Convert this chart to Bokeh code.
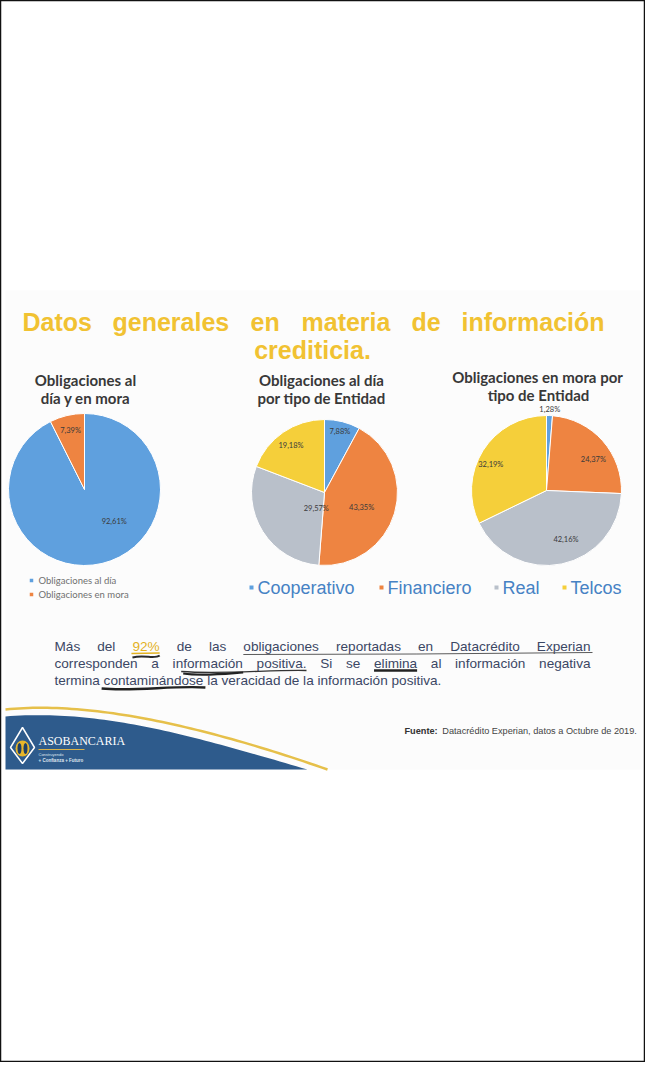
import numpy as np
from bokeh.plotting import figure
from bokeh.models import Range1d, ColumnDataSource
from bokeh.core.properties import value
from bokeh.embed import file_html
from bokeh.resources import INLINE

# ---------------- data ----------------
main_title_words = ["Datos", "generales", "en", "materia", "de", "información"]
main_title_line2 = "crediticia."

pie1_title = ["Obligaciones al", "día y en mora"]
pie1_categories = ["Obligaciones al día", "Obligaciones en mora"]
pie1_values = [92.61, 7.39]

pie2_title = ["Obligaciones al día", "por tipo de Entidad"]
pie3_title = ["Obligaciones en mora por", "tipo de Entidad"]
entity_categories = ["Cooperativo", "Financiero", "Real", "Telcos"]
pie2_values = [7.88, 43.35, 29.57, 19.18]
pie3_values = [1.28, 24.37, 42.16, 32.19]

para_line1 = ["Más", "del", "92%", "de", "las", "obligaciones", "reportadas", "en", "Datacrédito", "Experian"]
para_line2 = ["corresponden", "a", "información", "positiva.", "Si", "se", "elimina", "al", "información", "negativa"]
para_line3 = "termina contaminándose la veracidad de la información positiva."
source_bold = "Fuente:"
source_text = "Datacrédito Experian, datos a Octubre de 2019."
brand = "ASOBANCARIA"

# ---------------- styles / layout ----------------
BLUE, ORANGE, GRAY, YELLOW = "#5fa0de", "#ee8441", "#b9c0ca", "#f5cf3a"
pie1_colors = [BLUE, ORANGE]
entity_colors = [BLUE, ORANGE, GRAY, YELLOW]

# Arial / Liberation Sans advance widths (1/1000 em)
CW = dict(a=556, b=556, c=500, d=556, e=556, f=278, g=556, h=556, i=222, j=222, k=500,
          l=222, m=833, n=556, o=556, p=556, q=556, r=333, s=500, t=278, u=556, v=500,
          w=722, x=500, y=500, z=500, M=833, D=722, E=667, S=667)
CW.update({"á": 556, "é": 556, "í": 278, "ó": 556, "%": 889, ".": 278, " ": 278, ",": 278})


def tw(s, size):
    return sum(CW.get(ch, 556) for ch in s) / 1000.0 * size


p = figure(width=645, height=1062, x_range=Range1d(8, 653), y_range=Range1d(8, 1070),
           output_backend="svg", toolbar_location=None, min_border=0,
           x_axis_location=None, y_axis_location=None)
p.grid.visible = False
p.outline_line_color = "#111111"
p.outline_line_width = 1.5
p.background_fill_color = "white"
p.border_fill_color = "white"


def Y(py):
    return 1078 - py


def T(x, y, text, size, color, font="Liberation Sans", style="normal", align="left", base="middle"):
    xs = x if isinstance(x, list) else [x]
    ys = y if isinstance(y, list) else [y] * len(xs)
    ts = text if isinstance(text, list) else [text]
    p.text(x=xs, y=[Y(v) for v in ys], text=ts, text_font=value(font),
           text_font_size=value(size), text_color=color, text_font_style=style,
           text_align=align, text_baseline=base)


# slide background
p.quad(left=13, right=650, bottom=Y(777), top=Y(298), fill_color="#fcfcfc", line_color=None)

# main title (justified words)
T([30, 120, 258, 309, 419, 469], 329, main_title_words, "25px", "#f1c232", style="bold")
T(320, 357, main_title_line2, "25px", "#f1c232", style="bold", align="center")

# chart titles
TF = "Lato"
TS = "15px"
TC = "#383838"
T(93, 387, pie1_title[0], TS, TC, font=TF, style="bold", align="center")
T(93, 405, pie1_title[1], TS, TC, font=TF, style="bold", align="center")
T(329, 387, pie2_title[0], TS, TC, font=TF, style="bold", align="center")
T(329, 405, pie2_title[1], TS, TC, font=TF, style="bold", align="center")
T(545, 384, pie3_title[0], TS, TC, font=TF, style="bold", align="center")
T(546, 402, pie3_title[1], TS, TC, font=TF, style="bold", align="center")


def draw_pie(cx, cy, r, values, colors, label_layout):
    v = np.array(values, dtype=float)
    frac = v / v.sum()
    c1 = np.cumsum(frac)
    c0 = c1 - frac
    src = ColumnDataSource(dict(start=np.pi / 2 - 2 * np.pi * c0,
                                end=np.pi / 2 - 2 * np.pi * c1,
                                color=colors))
    p.wedge(x=cx, y=Y(cy), radius=r, start_angle="start", end_angle="end",
            direction="clock", fill_color="color", line_color="white",
            line_width=1, source=src)
    mid = (c0 + c1) / 2
    lx, ly, lt = [], [], []
    for m, val, (rf, dd) in zip(mid, values, label_layout):
        a = 2 * np.pi * m + np.radians(dd)
        lx.append(cx + rf * r * np.sin(a))
        ly.append(Y(cy) + rf * r * np.cos(a))
        lt.append(("%.2f%%" % val).replace(".", ","))
    p.text(x=lx, y=ly, text=lt, text_font=value("Lato"), text_font_size=value("7.5px"),
           text_color="#3a3a3a", text_align="center", text_baseline="middle")


draw_pie(92, 497, 76, pie1_values, pie1_colors, [(0.57, -30), (0.8, 0)])
draw_pie(332, 500, 73, pie2_values, entity_colors, [(0.86, 0), (0.55, 6), (0.25, -31), (0.79, -1)])
draw_pie(554, 498, 75, pie3_values, entity_colors, [(1.08, 0), (0.75, 8), (0.7, -10), (0.82, -7)])

# legend 1
leg1_y = [588, 602]
p.rect(x=[39, 39], y=[Y(v) for v in leg1_y], width=3.5, height=3.5, fill_color=pie1_colors, line_color=None)
T([46, 46], leg1_y, pie1_categories, "9.5px", "#707070", font="Lato")

# legend 2
leg2_x = [265, 395, 510, 578]
p.rect(x=[v - 6 for v in leg2_x], y=Y(595), width=4, height=4, fill_color=entity_colors, line_color=None)
T(leg2_x, 595, entity_categories, "18px", "#4682c4")

# paragraph (justified between PX0 and PX1)
PC = "#3b4764"
PS = 13.6
PX0, PX1 = 62, 598
L1, L2, L3 = 654, 671, 688


def justify(words):
    widths = [tw(w, PS) for w in words]
    gap = (PX1 - PX0 - sum(widths)) / (len(words) - 1)
    xs, x = [], PX0
    for w in widths:
        xs.append(x)
        x += w + gap
    return xs, widths


l1x, l1w = justify(para_line1)
l2x, l2w = justify(para_line2)
l1_colors = [PC, PC, "#e3b21f"] + [PC] * 7
p.text(x=l1x, y=Y(L1), text=para_line1, text_font=value("Liberation Sans"),
       text_font_size=value("%.1fpx" % PS), text_color=l1_colors, text_align="left", text_baseline="middle")
T(l2x, L2, para_line2, "%.1fpx" % PS, PC)
T(PX0, L3, para_line3, "%.1fpx" % PS, PC)

# hand-drawn underlines
i92 = 2
a, b = l1x[i92], l1x[i92] + l1w[i92]
p.line([a - 1, b], [Y(L1 + 7), Y(L1 + 6.5)], line_color="#e3b21f", line_width=1.5)
p.bezier(x0=a, y0=Y(L1 + 11), x1=b, y1=Y(L1 + 9), cx0=a + 12, cy0=Y(L1 + 8), cx1=a + 22, cy1=Y(L1 + 13),
         line_color="#2a2a2a", line_width=2)
a, b = l1x[5], l1x[9] + l1w[9]
p.line([a, (a + b) / 2, b + 2], [Y(L1 + 8), Y(L1 + 7.5), Y(L1 + 6)], line_color="#5a5a5a", line_width=1)
a = l2x[2] + tw("in", PS)
b = l2x[3] + l2w[3]
p.bezier(x0=a - 2, y0=Y(L2 + 8), x1=b, y1=Y(L2 + 7), cx0=a + 40, cy0=Y(L2 + 11), cx1=a + 90, cy1=Y(L2 + 6),
         line_color="#333333", line_width=1.3)
p.bezier(x0=a, y0=Y(L2 + 10), x1=a + 60, y1=Y(L2 + 9), cx0=a + 20, cy0=Y(L2 + 13), cx1=a + 45, cy1=Y(L2 + 10),
         line_color="#222222", line_width=2.2)
a, b = l2x[6], l2x[6] + l2w[6]
p.line([a, b], [Y(L2 + 7), Y(L2 + 7)], line_color="#222222", line_width=2.6)
a = PX0 + tw("termina ", PS)
b = a + tw("contaminándose", PS)
p.bezier(x0=a - 2, y0=Y(L3 + 8), x1=b + 2, y1=Y(L3 + 7), cx0=a + 30, cy0=Y(L3 + 11), cx1=a + 70, cy1=Y(L3 + 5),
         line_color="#222222", line_width=2.4)


# footer wave
def bez(P0, P1, P2, P3, n=60):
    t = np.linspace(0, 1, n)
    pts = [np.array(P) for P in (P0, P1, P2, P3)]
    return ((1 - t) ** 3)[:, None] * pts[0] + (3 * (1 - t) ** 2 * t)[:, None] * pts[1] + \
           (3 * (1 - t) * t ** 2)[:, None] * pts[2] + (t ** 3)[:, None] * pts[3]


wave = bez((13, 724), (110, 716), (205, 745), (315, 777))
xs = list(wave[:, 0]) + [13]
ys = [Y(v) for v in wave[:, 1]] + [Y(777)]
p.patch(xs, ys, fill_color="#2e5b8c", line_color=None)
gold = bez((13, 717), (100, 708), (215, 735), (335, 777))
p.line(gold[:, 0], [Y(v) for v in gold[:, 1]], line_color="#e6c04a", line_width=2.5)

# logo
p.patch([30, 42, 30, 18], [Y(735), Y(755), Y(771), Y(755)], fill_color="#2e5b8c",
        line_color="white", line_width=1.5)
p.ellipse(x=30, y=Y(756), width=14, height=16, fill_color="#e8b62a", line_color=None)
p.ellipse(x=[27, 33], y=Y(756), width=4, height=11, fill_color="#1f3f66", line_color=None)
T(46, 748, brand, "12px", "white", font="Liberation Serif")
p.line([46, 92], [Y(757), Y(757)], line_color="#d8b24a", line_width=1)
T(46, 762, "Construyendo", "4px", "#dfe6ee")
T(46, 768, "+ Confianza + Futuro", "4.5px", "#dfe6ee", style="bold")

# source
SS = 9.2
T(412, 738, source_bold, "%.1fpx" % SS, "#333333", style="bold")
T(412 + tw("Fuente: ", SS) + 2, 738, source_text, "%.1fpx" % SS, "#444444")

open("out.html", "w").write(file_html(p, INLINE))
